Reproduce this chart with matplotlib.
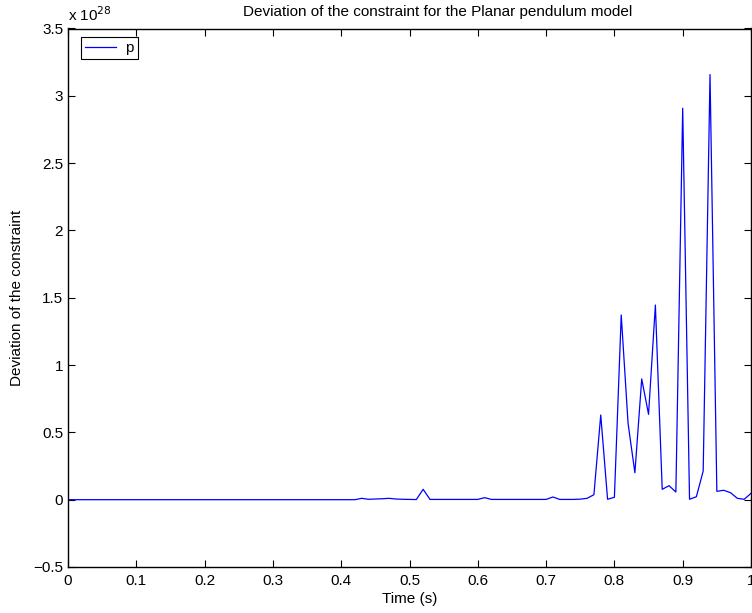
import numpy as np
import matplotlib
matplotlib.use("Agg")
import matplotlib.pyplot as plt
from matplotlib.ticker import FuncFormatter, MultipleLocator

plt.rcParams['font.family'] = ['Liberation Sans', 'DejaVu Sans']

time_s = np.linspace(0.0, 1.0, 101)
# deviation values in units of 1e28
dev_scaled = [0.0] * 43 + [
    0.010, 0.003, 0.005, 0.007, 0.010, 0.005, 0.003, 0.002, 0.001,   # 0.43-0.51
    0.077, 0.002, 0.002, 0.002, 0.002, 0.002, 0.002, 0.002, 0.002,   # 0.52-0.60
    0.015, 0.002, 0.002, 0.002, 0.002, 0.002, 0.002, 0.002, 0.002,   # 0.61-0.69
    0.002, 0.020, 0.002, 0.002, 0.002, 0.004, 0.010, 0.037,          # 0.70-0.77
    0.629, 0.003, 0.018, 1.372, 0.567, 0.200, 0.897, 0.634, 1.446,   # 0.78-0.86
    0.077, 0.104, 0.057, 2.908, 0.003, 0.022, 0.213, 3.158, 0.062,   # 0.87-0.95
    0.070, 0.052, 0.010, 0.003, 0.047]                               # 0.96-1.00
scale = 1e28
deviation = np.array(dev_scaled) * scale

title = "Deviation of the constraint for the Planar pendulum model"
xlabel = "Time (s)"
ylabel = "Deviation of the constraint"
series_name = "p"

FS = 11
W, H = 752, 613
fig = plt.figure(figsize=(W / 100, H / 100), dpi=100)
ax = fig.add_axes([68/W, 1-567/H, 683/W, (567-28.5)/H])
ax.plot(time_s, deviation, color=(0, 0, 1), lw=0.9, label=series_name)

ax.set_xlim(0, 1)
ax.set_ylim(-0.5 * scale, 3.5 * scale)
ax.xaxis.set_major_locator(MultipleLocator(0.1))
ax.yaxis.set_major_locator(MultipleLocator(0.5 * scale))

def fmt(v):
    s = "%g" % round(v, 6)
    return s.replace("-", "\u2212")

ax.xaxis.set_major_formatter(FuncFormatter(lambda v, p: fmt(v)))
ax.yaxis.set_major_formatter(FuncFormatter(lambda v, p: fmt(v / scale)))

ax.tick_params(direction='in', top=True, right=True, labelsize=FS, length=5, width=0.8)
ax.tick_params(axis='x', pad=5)
ax.tick_params(axis='y', pad=3.5)
for sp in ax.spines.values():
    sp.set_linewidth(1.0)

ax.text(0.0, 1.008, "x 10$^{28}$", transform=ax.transAxes, fontsize=FS, ha='left', va='bottom')
fig.text(437.5/W, 1-12/H, title, fontsize=FS, ha='center', va='center')
fig.text(409.5/W, 1-598.5/H, xlabel, fontsize=FS, ha='center', va='center')
fig.text(17.5/W, 1-297.8/H, ylabel, fontsize=FS, ha='center', va='center', rotation=90)

leg = ax.legend(loc='upper left', fontsize=FS, fancybox=False, edgecolor='black',
                framealpha=1, handlelength=2.0, handletextpad=0.6, borderpad=0.28,
                borderaxespad=0, bbox_to_anchor=((81-68)/683, (567-36.7)/538.5))
leg.get_frame().set_linewidth(0.8)

fig.savefig("out.png", dpi=100)
